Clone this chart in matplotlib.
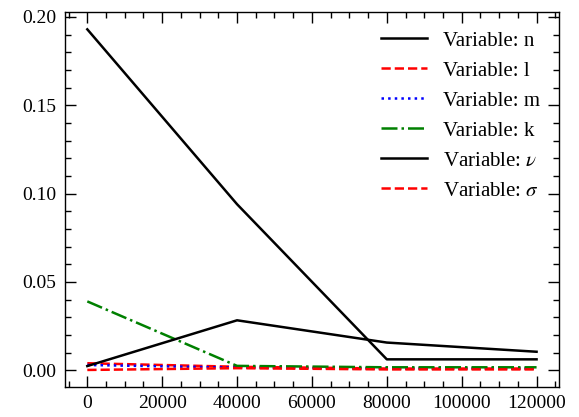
import matplotlib
matplotlib.use("Agg")
import matplotlib.pyplot as plt
from matplotlib.ticker import MultipleLocator

steps = [0, 40000, 80000, 120000]
var_n = [0.193, 0.094, 0.0062, 0.0062]
var_l = [0.004, 0.002, 0.001, 0.001]
var_m = [0.003, 0.0015, 0.001, 0.001]
var_k = [0.039, 0.0025, 0.0017, 0.0017]
var_nu = [0.0024, 0.0283, 0.0157, 0.0105]
var_sigma = [0.0002, 0.0012, 0.0005, 0.0005]

plt.rcParams['font.family'] = ['Liberation Serif', 'DejaVu Serif']
plt.rcParams['mathtext.fontset'] = 'stix'
plt.rcParams['font.size'] = 14

fig, ax = plt.subplots(figsize=(5.79, 4.17), dpi=100)
lw = 1.8
ax.plot(steps, var_n, color='black', ls='-', lw=lw, label='Variable: n')
ax.plot(steps, var_l, color='red', ls='--', lw=lw, label='Variable: l')
ax.plot(steps, var_m, color='blue', ls=':', lw=lw, label='Variable: m')
ax.plot(steps, var_k, color='green', ls='-.', lw=lw, label='Variable: k')
ax.plot(steps, var_nu, color='black', ls='-', lw=lw, label=r'Variable: $\nu$')
ax.plot(steps, var_sigma, color='red', ls='--', lw=lw, label=r'Variable: $\sigma$')

ax.xaxis.set_major_locator(MultipleLocator(20000))
ax.xaxis.set_minor_locator(MultipleLocator(5000))
ax.yaxis.set_major_locator(MultipleLocator(0.05))
ax.yaxis.set_minor_locator(MultipleLocator(0.01))
ax.tick_params(which='both', direction='in', top=True, right=True, width=1.0)
ax.tick_params(which='major', length=8, labelsize=14, pad=6)
ax.tick_params(which='minor', length=4.5)
for s in ax.spines.values():
    s.set_linewidth(1.0)

ax.legend(loc='upper right', frameon=False, fontsize=15, handlelength=2.2,
          handletextpad=0.8)
fig.subplots_adjust(left=0.112, right=0.9655, top=0.9705, bottom=0.072)
fig.savefig('out.png', dpi=100)
